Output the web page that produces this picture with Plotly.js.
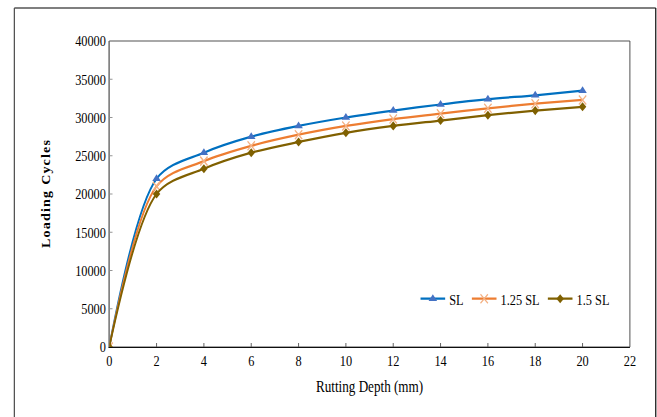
<!DOCTYPE html>
<html>
<head>
<meta charset="utf-8">
<script src="https://cdn.plot.ly/plotly-3.0.1.min.js"></script>
<style>
html,body{margin:0;padding:0;background:#fff;overflow:hidden;}
#wrap{width:657px;height:417px;overflow:hidden;}
#chart{width:800px;height:417px;transform:scaleX(0.82125);transform-origin:0 0;}
</style>
</head>
<body>
<div id="wrap"><div id="chart"></div></div>
<script>
// Data
var rutDepth = [0, 2, 4, 6, 8, 10, 12, 14, 16, 18, 20];
var cyclesSL = [0, 22000, 25400, 27500, 28900, 30000, 30900, 31700, 32400, 32900, 33500];
var cycles125SL = [0, 21000, 24300, 26300, 27750, 28900, 29800, 30500, 31200, 31800, 32300];
var cycles15SL = [0, 20000, 23300, 25400, 26800, 28000, 28900, 29600, 30300, 30900, 31400];
var seriesNames = ['SL', '1.25 SL', '1.5 SL'];
var xTicks = [0, 2, 4, 6, 8, 10, 12, 14, 16, 18, 20, 22];
var yTicks = [0, 5000, 10000, 15000, 20000, 25000, 30000, 35000, 40000];

var W = 800, H = 417;
var mL = 132.7, mR = 32.9, mT = 41, mB = 70;
var pw = W - mL - mR, ph = H - mT - mB;
function px2paperX(p){ return (p - mL) / pw; }
function px2paperY(p){ return (H - mB - p) / ph; }

var serif = 'Liberation Serif, Times New Roman, serif';

var traces = [
  {x: rutDepth, y: cyclesSL, name: seriesNames[0], mode: 'lines+markers',
   line: {color: '#0070C0', width: 2.25, shape: 'spline', smoothing: 0.9},
   marker: {symbol: 'triangle-up', size: 9, color: '#4472C4'}},
  {x: rutDepth, y: cycles125SL, name: seriesNames[1], mode: 'lines+markers',
   line: {color: '#ED7D31', width: 2.25, shape: 'spline', smoothing: 0.9},
   marker: {symbol: 'x-thin-open', size: 9, color: '#F4B183', line: {color: '#F4B183', width: 1.5}}},
  {x: rutDepth, y: cycles15SL, name: seriesNames[2], mode: 'lines+markers',
   line: {color: '#806000', width: 2.25, shape: 'spline', smoothing: 0.9},
   marker: {symbol: 'diamond', size: 7, color: '#7F6000'}}
];

var layout = {
  width: W, height: H,
  margin: {l: mL, r: mR, t: mT, b: mB, pad: 0},
  paper_bgcolor: '#ffffff', plot_bgcolor: '#ffffff',
  font: {family: serif, color: '#000', size: 15},
  showlegend: true,
  legend: {orientation: 'h', x: 0.59, y: 0.157, xanchor: 'left', yanchor: 'middle',
           font: {family: serif, size: 15, color: '#000'}, itemwidth: 30,
           bgcolor: 'rgba(0,0,0,0)', tracegroupgap: 0},
  xaxis: {range: [0, 22], tickvals: xTicks, ticktext: xTicks.map(String),
          showgrid: false, zeroline: false, showline: true, linecolor: '#000', linewidth: 1,
          ticks: 'inside', ticklen: 4, tickcolor: '#555',
          tickfont: {family: serif, size: 15, color: '#000'},
          title: {text: 'Rutting Depth (mm)', font: {family: serif, size: 16, color: '#000'}, standoff: 12}},
  yaxis: {range: [0, 40000], tickvals: yTicks, ticktext: yTicks.map(String),
          showgrid: false, zeroline: false, showline: true, linecolor: '#8a8a8a', linewidth: 1,
          ticks: 'inside', ticklen: 4, tickcolor: '#8a8a8a',
          tickfont: {family: serif, size: 15, color: '#000'},
          title: {text: 'L\u200Ao\u200Aa\u200Ad\u200Ai\u200An\u200Ag\u2009 C\u200Ay\u200Ac\u200Al\u200Ae\u200As',
                  font: {family: serif, size: 14, color: '#000', weight: 'bold'}, standoff: 26}},
  shapes: [
    {type: 'rect', xref: 'paper', yref: 'paper', x0: 0, x1: 1, y0: 0, y1: 1,
     line: {color: '#404040', width: 1}, layer: 'below'},
    {type: 'line', xref: 'paper', yref: 'paper', x0: px2paperX(17.05), x1: px2paperX(17.05),
     y0: px2paperY(8), y1: px2paperY(430), line: {color: '#333', width: 1.3}},
    {type: 'line', xref: 'paper', yref: 'paper', x0: px2paperX(17.05), x1: px2paperX(798.6),
     y0: px2paperY(8), y1: px2paperY(8), line: {color: '#555', width: 1.3}},
    {type: 'line', xref: 'paper', yref: 'paper', x0: px2paperX(798.6), x1: px2paperX(798.6),
     y0: px2paperY(8), y1: px2paperY(430), line: {color: '#111', width: 1.5}}
  ]
};

Plotly.newPlot('chart', traces, layout, {displayModeBar: false, staticPlot: true});
</script>
</body>
</html>
